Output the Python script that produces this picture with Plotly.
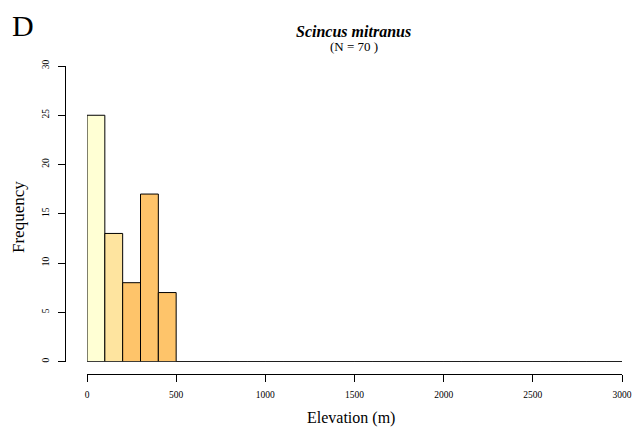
import plotly.graph_objects as go

# Histogram data: elevation bins (m) and counts
bin_edges = list(range(0, 3100, 100))
counts = [25, 13, 8, 17, 7] + [0] * 25
bin_colors = ["#FFFFD4", "#FEE49F", "#FEC46A", "#FEC46A", "#FEC46A"] + ["#FEC46A"] * 25

title_text = "Scincus mitranus"
n_text = "(N = 70 )"
panel_label = "D"
x_ticks = [0, 500, 1000, 1500, 2000, 2500, 3000]
y_ticks = [0, 5, 10, 15, 20, 25, 30]

centers = [(bin_edges[i] + bin_edges[i + 1]) / 2 for i in range(len(counts))]
widths = [bin_edges[i + 1] - bin_edges[i] for i in range(len(counts))]

FONT = "Liberation Serif, Times New Roman, serif"

fig = go.Figure()
fig.add_trace(go.Bar(
    x=centers, y=counts, width=widths,
    marker=dict(color=bin_colors, line=dict(color="black", width=1)),
    showlegend=False, hoverinfo="skip",
))
# baseline along zero-count bins
fig.add_trace(go.Scatter(
    x=[bin_edges[0], bin_edges[-1]], y=[0, 0], mode="lines",
    line=dict(color="black", width=1), showlegend=False, hoverinfo="skip",
))

OFF = 0
W, H = 635, 428
ml, mr, mt, mb = 65, 13, 66, 54
pw, ph = W - ml - mr, H - mt - mb
x_dom0 = 22 / pw
y_dom0 = 12.5 / ph

fig.update_layout(
    width=W, height=H,
    margin=dict(l=ml, r=mr, t=mt, b=mb, autoexpand=False),
    plot_bgcolor="white", paper_bgcolor="white",
    bargap=0,
    font=dict(family=FONT, color="black"),
    xaxis=dict(
        domain=[x_dom0, 1], range=[0, 3000], anchor="free", position=0,
        tickvals=x_ticks, ticks="outside", ticklen=7, tickcolor="black",
        showline=True, linecolor="black", linewidth=1, showgrid=False, zeroline=False,
        tickfont=dict(size=9.5, family=FONT), automargin=False, ticklabelstandoff=5,
        ticklabeloverflow="allow",
    ),
    yaxis=dict(
        domain=[y_dom0, 1], range=[0, 30], anchor="free", position=0,
        tickvals=y_ticks, ticks="outside", ticklen=7, tickcolor="black",
        showline=True, linecolor="black", linewidth=1, showgrid=False, zeroline=False,
        tickfont=dict(size=9.5, family=FONT), tickangle=-90, automargin=False,
        ticklabelstandoff=5, ticklabeloverflow="allow",
    ),
)

def px_to_paper(px, py):
    fx, fy = px - OFF, py - OFF
    return (fx - ml) / pw, (H - mb - fy) / ph

ann_specs = [
    (panel_label, 23, 26, 30, 0),
    ("<b><i>" + title_text + "</i></b>", 354, 32, 16, 0),
    (n_text, 354, 46, 13, 0),
    ("Frequency", 18, 217, 17, -90),
    ("Elevation (m)", 351, 418, 16, 0),
]
anns = []
for text, px, py, size, ang in ann_specs:
    xp, yp = px_to_paper(px, py)
    anns.append(dict(text=text, x=xp, y=yp, xref="paper", yref="paper",
                     xanchor="center", yanchor="middle", showarrow=False, textangle=ang,
                     font=dict(size=size, family=FONT, color="black")))
fig.update_layout(annotations=anns)

fig.write_html(
    "out.html",
    config={"displayModeBar": False, "staticPlot": True},
    post_script="document.body.style.margin='0';document.body.style.overflow='hidden';",
)
